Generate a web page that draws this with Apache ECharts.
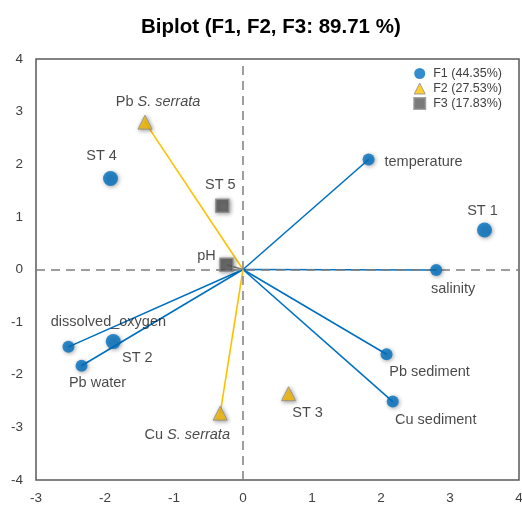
<!DOCTYPE html>
<html>
<head>
<meta charset="utf-8">
<script src="https://cdn.jsdelivr.net/npm/echarts@6/dist/echarts.min.js"></script>
<style>html,body{margin:0;padding:0;background:#fff;overflow:hidden}#c{width:522px;height:506px}</style>
</head>
<body>
<div id="c"></div>
<script>
// ---- data ----
var titleText = 'Biplot (F1, F2, F3: 89.71 %)';
var legendNames = ['F1 (44.35%)', 'F2 (27.53%)', 'F3 (17.83%)'];
var xTicks = [-3, -2, -1, 0, 1, 2, 3, 4];
var yTicks = [-4, -3, -2, -1, 0, 1, 2, 3, 4];

var f1Names = ['ST 1', 'ST 2', 'ST 4', 'temperature', 'salinity', 'dissolved_oxygen', 'Pb water', 'Pb sediment', 'Cu sediment'];
var f1X = [3.50, -1.88, -1.92, 1.82, 2.80, -2.53, -2.34, 2.08, 2.17];
var f1Y = [0.75, -1.37, 1.73, 2.09, -0.01, -1.47, -1.83, -1.61, -2.51];

var f2Names = ['Pb S. serrata', 'Cu S. serrata', 'ST 3'];
var f2X = [-1.42, -0.33, 0.66];
var f2Y = [2.80, -2.73, -2.36];

var f3Names = ['ST 5', 'pH'];
var f3X = [-0.30, -0.24];
var f3Y = [1.21, 0.09];

// vectors drawn from the origin (variables, not stations)
var vectorNames = ['temperature', 'salinity', 'dissolved_oxygen', 'Pb water', 'Pb sediment', 'Cu sediment', 'Pb S. serrata', 'Cu S. serrata', 'pH'];

// ---- styles ----
var labelOffsets = {
  'ST 1': [-2, -19], 'ST 2': [24, 16], 'ST 4': [-9, -22], 'temperature': [55, 2],
  'salinity': [17, 19], 'dissolved_oxygen': [40, -25], 'Pb water': [16, 17],
  'Pb sediment': [43, 18], 'Cu sediment': [43, 18],
  'Pb S. serrata': [13, -20], 'Cu S. serrata': [-33, 22], 'ST 3': [19, 19],
  'ST 5': [-2, -21], 'pH': [-20, -9]
};
var colors = { f1: '#0070C0', f2: '#FFC000', f3: '#595959' };
var FONT = 'Liberation Sans, Arial, sans-serif';

function labelText(n) {
  var m = n.match(/^(\w+) S\. serrata$/);
  if (m) return m[1] + ' {i|S. serrata}';
  return n;
}

function buildData(names, xs, ys) {
  return names.map(function (n, i) {
    return {
      name: n, value: [xs[i], ys[i]],
      label: { offset: labelOffsets[n] || [0, 0] }
    };
  });
}

var allNames = f1Names.concat(f2Names, f3Names);
var allX = f1X.concat(f2X, f3X);
var allY = f1Y.concat(f2Y, f3Y);
function groupColor(n) {
  if (f2Names.indexOf(n) >= 0) return colors.f2;
  if (f3Names.indexOf(n) >= 0) return '#7f7f7f';
  return colors.f1;
}

var series = [];
vectorNames.forEach(function (n, k) {
  var i = allNames.indexOf(n);
  series.push({
    type: 'line', silent: true, symbol: 'none', z: 2,
    data: [[0, 0], [allX[i], allY[i]]],
    lineStyle: { color: groupColor(n), width: 1.6 },
    markLine: k === 0 ? {
      silent: true, symbol: 'none', label: { show: false },
      lineStyle: { color: '#7f7f7f', width: 1.5, type: [9, 6] },
      data: [{ xAxis: 0 }, { yAxis: 0 }]
    } : undefined
  });
});

var labelCommon = {
  show: true, position: 'inside', color: '#1a1a1a', fontSize: 14.5,
  fontFamily: FONT, textBorderWidth: 0,
  formatter: function (p) { return labelText(p.name); },
  rich: { i: { fontStyle: 'italic', fontSize: 14.5, color: '#1a1a1a', fontFamily: FONT } }
};
var shadow = { shadowBlur: 4, shadowColor: 'rgba(0,0,0,0.45)', shadowOffsetX: 1, shadowOffsetY: 1 };

series.push({
  name: legendNames[0], type: 'scatter', z: 5, symbol: 'circle',
  symbolSize: function (v, p) { return p.name.indexOf('ST') === 0 ? 15 : 12; },
  itemStyle: Object.assign({ color: colors.f1 }, shadow),
  label: labelCommon,
  data: buildData(f1Names, f1X, f1Y)
});
series.push({
  name: legendNames[1], type: 'scatter', z: 5, symbol: 'triangle', symbolSize: 14,
  itemStyle: Object.assign({ color: colors.f2, borderColor: '#8c8c8c', borderWidth: 1 }, shadow),
  label: labelCommon,
  data: buildData(f2Names, f2X, f2Y)
});
series.push({
  name: legendNames[2], type: 'scatter', z: 5, symbol: 'rect', symbolSize: 13,
  itemStyle: Object.assign({ color: colors.f3, borderColor: '#8c8c8c', borderWidth: 1.5 }, shadow),
  label: labelCommon,
  data: buildData(f3Names, f3X, f3Y)
});

var chart = echarts.init(document.getElementById('c'), null, { renderer: 'canvas' });
chart.setOption({
  animation: false,
  backgroundColor: '#fff',
  title: {
    text: titleText, left: 136, top: 12,
    textStyle: { fontSize: 20.5, fontWeight: 'bold', color: '#000', fontFamily: FONT }
  },
  legend: {
    data: [
      { name: legendNames[0], icon: 'circle' },
      { name: legendNames[1], icon: 'triangle', itemStyle: { borderColor: '#8c8c8c', borderWidth: 1 } },
      { name: legendNames[2], icon: 'rect' }
    ],
    orient: 'vertical', right: 15, top: 62, itemWidth: 11, itemHeight: 11, itemGap: 2,
    textStyle: { fontSize: 12.5, color: '#404040', fontFamily: FONT, padding: [0, 0, 0, 3] }
  },
  grid: {
    left: 36, right: 3, top: 59, bottom: 26, show: true, containLabel: false,
    outerBoundsMode: 'none',
    borderColor: '#595959', borderWidth: 1.5, backgroundColor: 'transparent'
  },
  xAxis: {
    type: 'value', min: xTicks[0], max: xTicks[xTicks.length - 1], interval: 1,
    axisLine: { show: false }, axisTick: { show: false }, splitLine: { show: false },
    axisLabel: { fontSize: 13.5, color: '#404040', margin: 11, fontFamily: FONT }
  },
  yAxis: {
    type: 'value', min: yTicks[0], max: yTicks[yTicks.length - 1], interval: 1,
    axisLine: { show: false }, axisTick: { show: false }, splitLine: { show: false },
    axisLabel: { fontSize: 13.5, color: '#404040', margin: 13, fontFamily: FONT }
  },
  series: series
});
</script>
</body>
</html>
